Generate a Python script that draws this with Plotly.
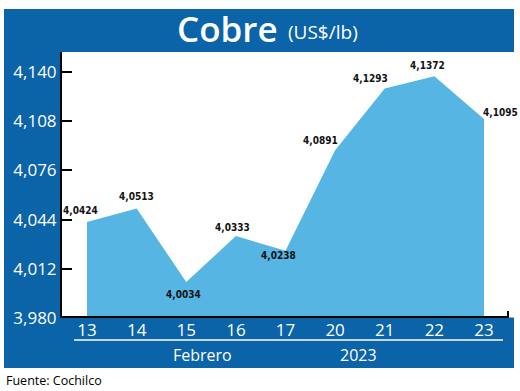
import plotly.graph_objects as go

# ---- data ----
days = ["13", "14", "15", "16", "17", "20", "21", "22", "23"]
prices = [4.0424, 4.0513, 4.0034, 4.0333, 4.0238, 4.0891, 4.1293, 4.1372, 4.1095]
price_labels = ["4,0424", "4,0513", "4,0034", "4,0333", "4,0238", "4,0891", "4,1293", "4,1372", "4,1095"]
y_ticks = [3.980, 4.012, 4.044, 4.076, 4.108, 4.140]
y_tick_labels = ["3,980", "4,012", "4,044", "4,076", "4,108", "4,140"]
month_label = "Febrero"
year_label = "2023"
title_main = "Cobre"
title_unit = "(US$/lb)"
source_text = "Fuente: Cochilco"

# ---- style ----
W, H = 520, 391
L, R, T, B = 62, 5, 52, 73
PW, PH = W - L - R, H - T - B
BLUE = "#0b63a8"
AREA = "#57b5e4"
label_shift = [(-7, 12), (0, 12), (-3, -12), (-3, 9), (-7, -5), (-15, 10), (-14, 10), (-7, 11), (17, 6)]

def px(x):
    return (x - L) / PW

def py(y):
    return (H - B - y) / PH

idx = list(range(len(days)))

fig = go.Figure()
fig.add_trace(go.Scatter(
    x=idx, y=prices, mode="lines", fill="tozeroy",
    line=dict(width=0, color=AREA), fillcolor=AREA, hoverinfo="skip",
))

shapes = [
    dict(type="rect", xref="paper", yref="paper", x0=px(4), x1=px(514), y0=py(52), y1=py(9),
         fillcolor=BLUE, line=dict(width=0), layer="below"),
    dict(type="rect", xref="paper", yref="paper", x0=px(4), x1=px(61), y0=py(368), y1=py(52),
         fillcolor=BLUE, line=dict(width=0), layer="below"),
    dict(type="rect", xref="paper", yref="paper", x0=px(61), x1=px(514), y0=py(368), y1=py(317.5),
         fillcolor=BLUE, line=dict(width=0), layer="below"),
    dict(type="line", xref="paper", yref="paper", x0=px(74), x1=px(503), y0=py(340), y1=py(340),
         line=dict(color="white", width=1.5)),
    dict(type="line", xref="paper", yref="paper", x0=px(62), x1=px(509), y0=py(317), y1=py(317),
         line=dict(color="black", width=2)),
    dict(type="line", xref="paper", yref="paper", x0=px(508), x1=px(508), y0=py(317), y1=py(311),
         line=dict(color="black", width=2)),
]

annotations = []
for i, (xv, yv, t) in enumerate(zip(idx, prices, price_labels)):
    dx, dy = label_shift[i]
    annotations.append(dict(
        x=xv, y=yv, text=t, showarrow=False, xshift=dx, yshift=dy,
        font=dict(family="Liberation Sans Narrow, DejaVu Sans Condensed, Arial Narrow, sans-serif",
                  size=10, color="#111111", weight="bold"),
    ))

annotations += [
    dict(xref="paper", yref="paper", x=px(280), y=py(29), xanchor="right", yanchor="middle",
         text=title_main, showarrow=False,
         font=dict(family="Open Sans, sans-serif", color="white", size=35, weight=600)),
    dict(xref="paper", yref="paper", x=px(286), y=py(32), xanchor="left", yanchor="middle",
         text=title_unit, showarrow=False,
         font=dict(family="Open Sans, sans-serif", color="white", size=19)),
    dict(xref="paper", yref="paper", x=px(202), y=py(355), xanchor="center", yanchor="middle",
         text=month_label, showarrow=False,
         font=dict(family="Open Sans, sans-serif", color="white", size=16)),
    dict(xref="paper", yref="paper", x=px(358), y=py(355), xanchor="center", yanchor="middle",
         text=year_label, showarrow=False,
         font=dict(family="Open Sans, sans-serif", color="white", size=16)),
    dict(xref="paper", yref="paper", x=px(4), y=py(380), xanchor="left", yanchor="middle",
         text=source_text, showarrow=False,
         font=dict(family="Open Sans, sans-serif", color="black", size=12.5)),
]

spacing = 49.6
x0 = -(87 - L) / spacing
x1 = (len(days) - 1) + (L + PW - 484) / spacing
ymin = 3.980
scale = 246 / 0.160
ymax = ymin + PH / scale

fig.update_layout(
    width=W, height=H, margin=dict(l=L, r=R, t=T, b=B, pad=0),
    paper_bgcolor="white", plot_bgcolor="white", showlegend=False,
    shapes=shapes, annotations=annotations,
    xaxis=dict(range=[x0, x1], tickmode="array", tickvals=idx, ticktext=days,
               showgrid=False, zeroline=False, showline=False, ticks="",
               tickfont=dict(family="Open Sans, sans-serif", color="white", size=17),
               fixedrange=True),
    yaxis=dict(range=[ymin, ymax], tickmode="array", tickvals=y_ticks, ticktext=y_tick_labels,
               showgrid=False, zeroline=False, showline=True, linecolor="black", linewidth=2,
               ticks="inside", ticklen=10, tickwidth=2, tickcolor="black",
               tickfont=dict(family="Open Sans, sans-serif", color="white", size=17),
               fixedrange=True),
)

fig.write_html("out.html", config={"displayModeBar": False},
               post_script="document.body.style.margin='0';document.body.style.overflow='hidden';")
